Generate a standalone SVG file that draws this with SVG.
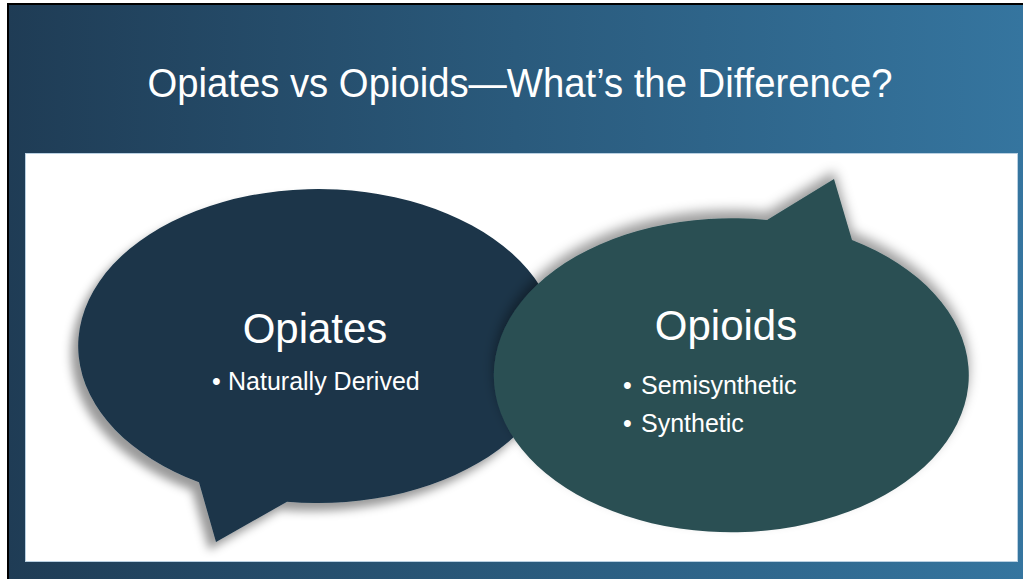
<svg xmlns="http://www.w3.org/2000/svg" width="1023" height="579" viewBox="0 0 1023 579">
  <defs>
    <linearGradient id="bg" x1="0" y1="0" x2="1" y2="0">
      <stop offset="0" stop-color="#1f3c55"/>
      <stop offset="0.5" stop-color="#2a5a7c"/>
      <stop offset="1" stop-color="#35759f"/>
    </linearGradient>
    <filter id="shL" x="-20%" y="-20%" width="140%" height="140%">
      <feGaussianBlur in="SourceAlpha" stdDeviation="5"/>
      <feOffset dx="-7" dy="8" result="b"/>
      <feFlood flood-color="#000" flood-opacity="0.4"/>
      <feComposite in2="b" operator="in"/>
      <feMerge><feMergeNode/><feMergeNode in="SourceGraphic"/></feMerge>
    </filter>
    <filter id="shR" x="-20%" y="-20%" width="140%" height="140%">
      <feGaussianBlur in="SourceAlpha" stdDeviation="6"/>
      <feOffset dx="0" dy="-8" result="b"/>
      <feFlood flood-color="#000" flood-opacity="0.38"/>
      <feComposite in2="b" operator="in"/>
      <feMerge><feMergeNode/><feMergeNode in="SourceGraphic"/></feMerge>
    </filter>
  </defs>
  <style>
    .t { font-family: "Liberation Sans", Arial, sans-serif; fill: #ffffff; }
    .head { font-size: 42px; }
    .item { font-size: 25px; }
  </style>
  <rect x="0" y="0" width="1023" height="579" fill="#ffffff"/>
  <rect x="8" y="4" width="1015" height="575" fill="url(#bg)"/>
  <rect x="7" y="3" width="1016" height="2" fill="#000"/>
  <rect x="7" y="3" width="2" height="576" fill="#000"/>
  <text class="t" x="520" y="97" font-size="40" text-anchor="middle" textLength="745" lengthAdjust="spacingAndGlyphs" fill="#f4f4f4">Opiates vs Opioids—What’s the Difference?</text>
  <rect x="25.5" y="153.5" width="992" height="408" fill="#ffffff" stroke="#b9d0e2" stroke-width="1"/>
  <g id="opiates">
    <path d="M199,482.3 L216,542 L287,501.7 A240,157 0 1 0 199,482.3 Z" fill="#1a3448" filter="url(#shL)"/>
    <text class="t head" x="315" y="343" text-anchor="middle">Opiates</text>
    <text class="t item" x="212" y="390">•</text>
    <text class="t item" x="228" y="390">Naturally Derived</text>
  </g>
  <g id="opioids">
    <path d="M767,220 L834,179 L852,240 A237.5,157 0 1 1 767,220 Z" fill="#2b4f53" filter="url(#shR)"/>
    <text class="t head" x="726" y="340" text-anchor="middle">Opioids</text>
    <text class="t item" x="623" y="394">•</text>
    <text class="t item" x="641" y="394">Semisynthetic</text>
    <text class="t item" x="623" y="432">•</text>
    <text class="t item" x="641" y="432">Synthetic</text>
  </g>
  <g id="connectors"/>
</svg>
